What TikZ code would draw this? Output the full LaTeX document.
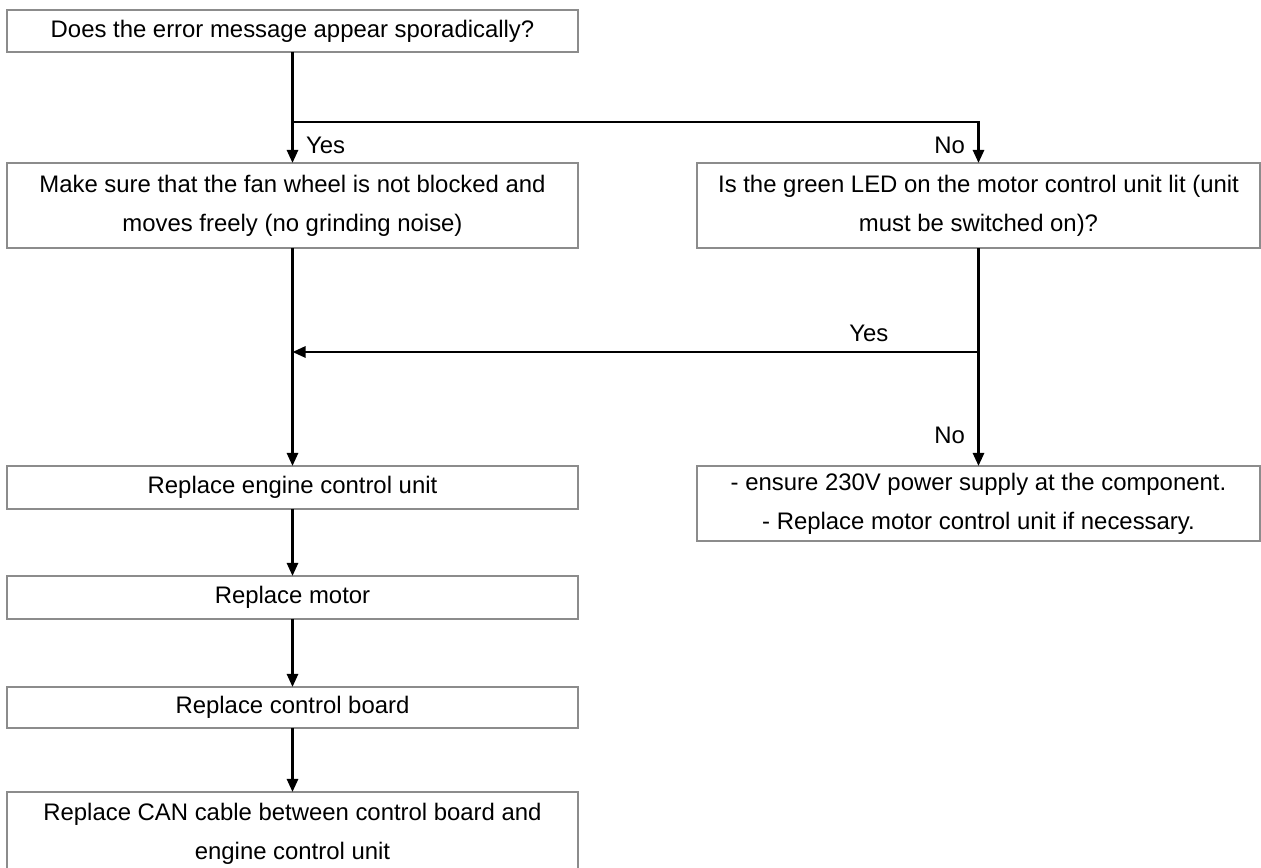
\documentclass[tikz,border=0pt]{standalone}
\usepackage{fontspec}
\setmainfont{Liberation Sans}
\usepackage{tikz}
\usetikzlibrary{arrows.meta, positioning}

\begin{document}
\begin{tikzpicture}[
    node distance=1.34cm and 2.38cm,
    stepbox/.style={draw=black!45, line width=0.6pt, fill=white, outer sep=0pt, inner sep=2pt, minimum width=11.42cm, minimum height=0.86cm, align=center, font=\fontsize{13.6}{22.2}\selectfont},
    tallbox/.style={stepbox, minimum height=1.7cm},
    widebox/.style={stepbox, minimum width=11.26cm, minimum height=1.5cm},
    arrow/.style={-{Triangle[length=2.6mm, width=2.2mm]}, line width=1.5pt},
    link/.style={line width=1.5pt},
    answer/.style={font=\fontsize{13.6}{17}\selectfont, inner sep=3pt}
]

\useasboundingbox (0,0) rectangle (25.22,-17.36);

\node[stepbox, minimum height=0.84cm] (sporadic) at (5.85,-0.62) {Does the error message appear sporadically?};

\node[tallbox, below=2.22cm of sporadic] (fanwheel) {Make sure that the fan wheel is not blocked and\\moves freely (no grinding noise)};
\node[tallbox, minimum width=11.26cm, right=2.38cm of fanwheel] (greenled) {Is the green LED on the motor control unit lit (unit\\must be switched on)?};

\coordinate[below=1.4cm of sporadic.south] (fork);

\draw[link] (sporadic.south) -- (fork);
\draw[arrow] (fork) -- node[answer, right, pos=0.56, xshift=4pt] {Yes} (fanwheel.north);
\draw[arrow] (fork) -| node[answer, left, pos=0.78, xshift=-4pt] {No} (greenled.north);


\node[stepbox, below=4.36cm of fanwheel] (ecu) {Replace engine control unit};
\node[widebox, below=4.36cm of greenled] (power) {- ensure 230V power supply at the component.\\- Replace motor control unit if necessary.};

\coordinate[below=2.08cm of greenled.south] (ledyes);
\coordinate (merge) at (ledyes -| fanwheel.south);

\draw[arrow] (fanwheel.south) -- (ecu.north);
\draw[arrow] (greenled.south) -- node[answer, left, pos=0.86, xshift=-4pt] {No} (power.north);
\draw[arrow] (ledyes) -- node[answer, above, pos=0.16, yshift=2pt] {Yes} (merge);


\node[stepbox, below=1.34cm of ecu] (motor) {Replace motor};
\node[stepbox, minimum height=0.82cm, below=1.36cm of motor] (board) {Replace control board};
\node[tallbox, minimum height=1.66cm, below=1.28cm of board] (cable) {Replace CAN cable between control board and\\engine control unit};

\draw[arrow] (ecu.south) -- (motor.north);
\draw[arrow] (motor.south) -- (board.north);
\draw[arrow] (board.south) -- (cable.north);

\end{tikzpicture}
\end{document}
